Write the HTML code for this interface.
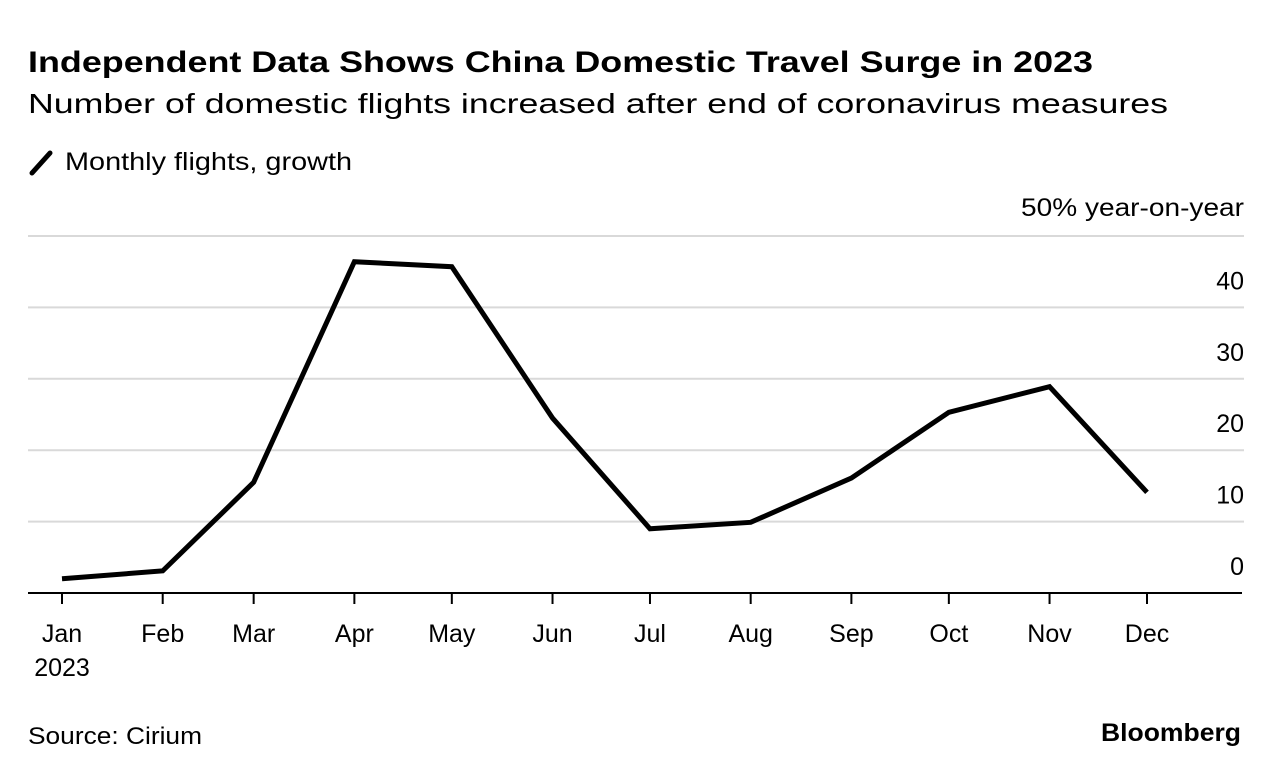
<!DOCTYPE html>
<html><head><meta charset="utf-8"><style>
body{margin:0;background:#fff;font-family:"Liberation Sans",sans-serif;}
</style></head><body>
<svg width="1279" height="776" xmlns="http://www.w3.org/2000/svg" font-family="Liberation Sans, sans-serif">
<text x="28" y="72" font-size="30" font-weight="bold" fill="#000" textLength="1065" lengthAdjust="spacingAndGlyphs">Independent Data Shows China Domestic Travel Surge in 2023</text>
<text x="28" y="113" font-size="28" fill="#000" textLength="1140" lengthAdjust="spacingAndGlyphs">Number of domestic flights increased after end of coronavirus measures</text>
<line x1="32" y1="173" x2="50" y2="153" stroke="#000" stroke-width="5" stroke-linecap="round"/>
<text x="65" y="170" font-size="25" fill="#000" textLength="287" lengthAdjust="spacingAndGlyphs">Monthly flights, growth</text>
<g id="grid"></g>
<g id="xaxis"></g>
<path id="line" fill="none" stroke="#000" stroke-width="5" stroke-linejoin="miter"/>
<text x="28" y="744" font-size="24" fill="#000" textLength="174" lengthAdjust="spacingAndGlyphs">Source: Cirium</text>
<text x="1101" y="741" font-size="25" font-weight="bold" fill="#000" textLength="140" lengthAdjust="spacingAndGlyphs">Bloomberg</text>
</svg>
<script>
const months=["Jan","Feb","Mar","Apr","May","Jun","Jul","Aug","Sep","Oct","Nov","Dec"];
const dayOfYear=[0,31,59,90,120,151,181,212,243,273,304,334];
const values=[2.0,3.1,15.5,46.4,45.7,24.5,9.0,9.9,16.1,25.3,28.9,14.1];
const yTicks=[0,10,20,30,40,50];
const yTickLabels=["0","10","20","30","40","50% year-on-year"];
const NS="http://www.w3.org/2000/svg";
const x=d=>62+d*(1085/334);
const y=v=>593-v*7.14;
function mk(tag,attrs,parent,text){const e=document.createElementNS(NS,tag);for(const k in attrs)e.setAttribute(k,attrs[k]);if(text!==undefined)e.textContent=text;parent.appendChild(e);return e;}
const grid=document.getElementById('grid'),xa=document.getElementById('xaxis');
yTicks.forEach((t,i)=>{
 if(t>0){const l=mk('line',{x1:28,x2:1244,y1:y(t),y2:y(t),stroke:'#d9d9d9','stroke-width':2},grid);
 
 }
 const attrs={x:1244,y:y(t)-18,'font-size':25,'text-anchor':'end',fill:'#000'};
 if(t===50){attrs.textLength=223;attrs.lengthAdjust='spacingAndGlyphs';attrs.y=y(t)-20;}
 const tx=mk('text',attrs,grid,yTickLabels[i]);
 
 
});
const ax=mk('line',{x1:28,x2:1242,y1:593,y2:593,stroke:'#000','stroke-width':2},xa);


months.forEach((m,i)=>{
 const tk=mk('line',{x1:x(dayOfYear[i]),x2:x(dayOfYear[i]),y1:593,y2:604,stroke:'#000','stroke-width':2},xa);
 
 
 const t=mk('text',{x:x(dayOfYear[i]),y:642,'font-size':25,'text-anchor':'middle',fill:'#000'},xa,m);
 
 
});
const yr=mk('text',{x:62,y:676,'font-size':25,'text-anchor':'middle',fill:'#000'},xa,"2023");


document.getElementById('line').setAttribute('d',values.map((v,i)=>(i?'L':'M')+x(dayOfYear[i])+','+y(v)).join(' '));
</script>
</body></html>
